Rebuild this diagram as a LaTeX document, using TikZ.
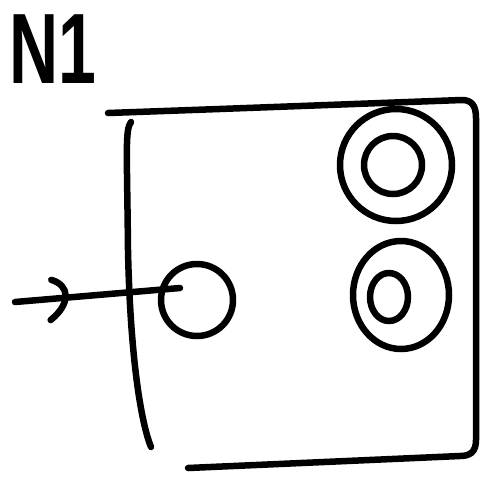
\documentclass[tikz,border=0pt]{standalone}
\usepackage{fontspec}
\setmainfont{Liberation Sans}
\usetikzlibrary{arrows.meta,decorations.markings,calc,shapes.geometric}
\begin{document}
\begin{tikzpicture}[x=1pt,y=-1pt,
  pen/.style={line width=6.5pt,line cap=round,line join=round},
  state/.style={circle,draw,pen,inner sep=0pt},
  inner/.style={pen},
  midarrow/.style={postaction={decorate},decoration={markings,
    mark=at position 0.29 with {\draw[pen] (-10,-19) .. controls (8,-12) and (8,6) .. (-14,21);}}}]
\useasboundingbox (0,0) rectangle (490,480);
% title
\node[inner sep=0pt,anchor=north west,font=\bfseries\fontsize{100}{100}\selectfont,xscale=0.68] (title) at (9,14) {N1};
% frame
\draw[pen] (108,113) .. controls (250,108) and (380,103) .. (462,100) .. controls (472,100) and (476,106) .. (476,118) -- (476,440) .. controls (476,452) and (470,456) .. (460,456) -- (188,468);
\draw[pen] (131,122) .. controls (125,130) and (127,150) .. (128,250) .. controls (130,350) and (140,420) .. (151,447);
% states
\node[state,minimum size=72pt] (q0) at (197,300) {};
\node[state,minimum size=112pt] (q1) at (396,165) {};
\draw[inner] (393,165) ellipse [x radius=29pt, y radius=29pt];
\node[draw,pen,ellipse,inner sep=0pt,minimum width=96pt,minimum height=108pt] (q2) at (401,295) {};
\draw[inner] (389,297) ellipse [x radius=19pt, y radius=24pt];
% start arrow
\coordinate (s) at (15,302);
\coordinate (e) at (180,288);
\draw[pen,midarrow] (s) -- (e);
\end{tikzpicture}
\end{document}
